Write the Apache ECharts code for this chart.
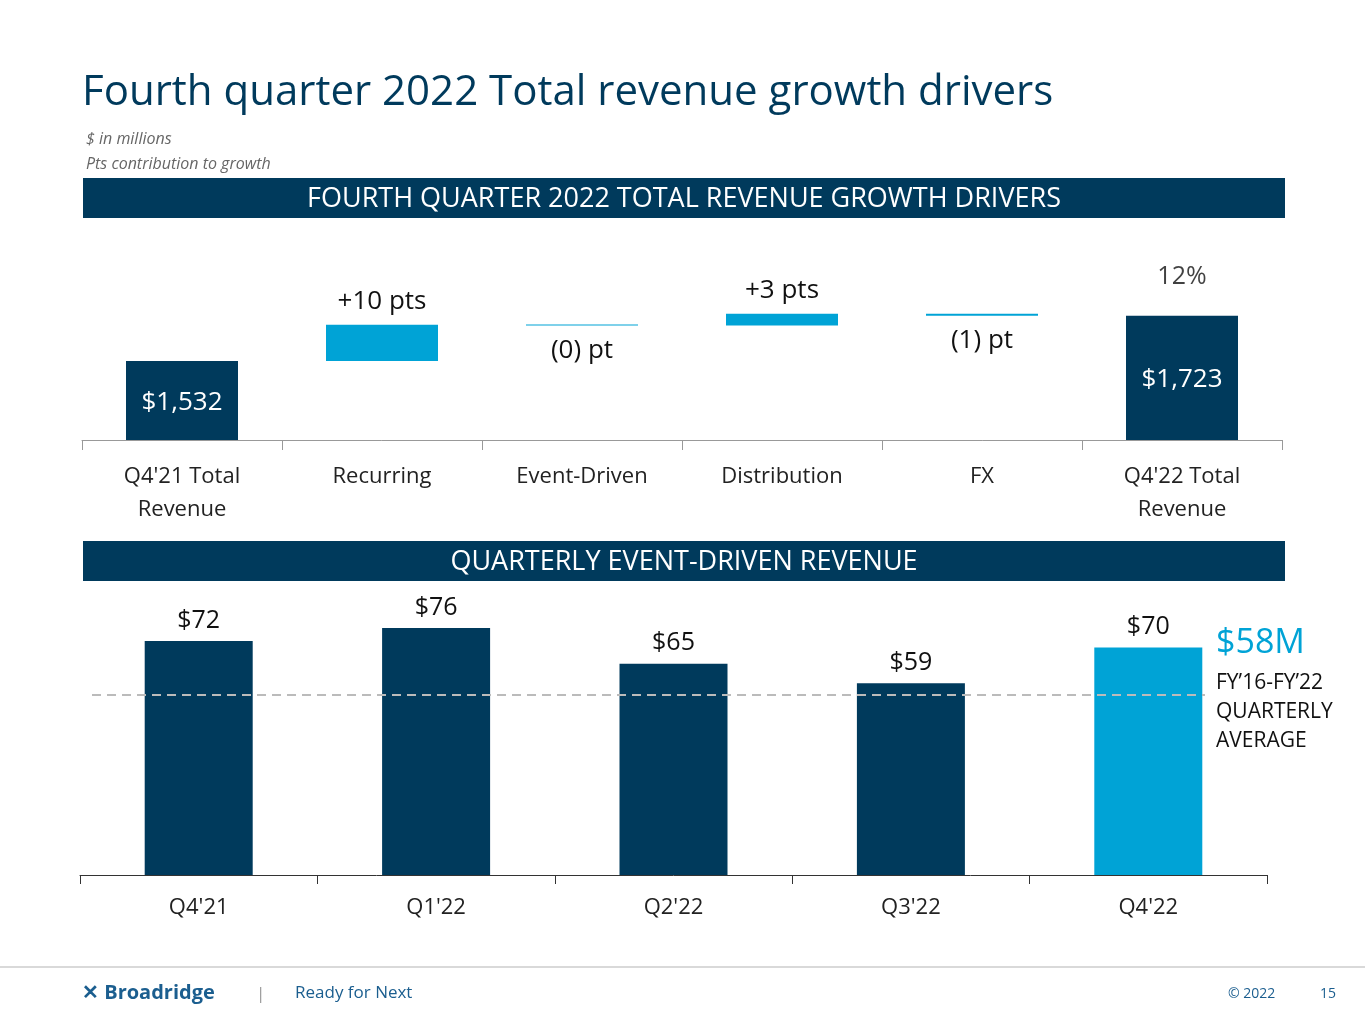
<!DOCTYPE html>
<html><head><meta charset="utf-8">
<script src="https://cdn.jsdelivr.net/npm/echarts@6/dist/echarts.min.js"></script>
<style>html,body{margin:0;padding:0;background:#fff}#c{width:1365px;height:1024px}</style>
</head><body><div id="c"></div>
<script>
const wfCategories = ["Q4'21 Total\nRevenue","Recurring","Event-Driven","Distribution","FX","Q4'22 Total\nRevenue"];
const wfStart = 1532;
const wfDeltas = [153, -3, 50, -9];
const wfEnd = 1723;
const wfLabels = ["$1,532","+10 pts","(0) pt","+3 pts","(1) pt","12%"];
const qCategories = ["Q4'21","Q1'22","Q2'22","Q3'22","Q4'22"];
const qValues = [72, 76, 65, 59, 70];
const avgLineValue = 55.5;

const NAVY = '#003A5C', CYAN = '#00A3D6';
const FONT = 'Open Sans';

const base = [], pos = [], neg = [], totals = [];
let run = wfStart;
base.push(0); pos.push(null); neg.push(null);
totals.push({value:wfStart, label:{show:true, position:'insideBottom', distance:24, fontSize:26, color:'#fff', formatter:'$1,532'}});
wfDeltas.forEach(d => {
  if (d >= 0) { base.push(run); pos.push(d); neg.push(null); }
  else { base.push(run + d); pos.push(null); neg.push(-d); }
  totals.push(null);
  run += d;
});
base.push(0); pos.push(null); neg.push(null);
totals.push({value:wfEnd, label:{show:true, position:'insideBottom', distance:47, fontSize:26, color:'#fff', formatter:'$1,723'}});

const chart = echarts.init(document.getElementById('c'));
chart.setOption({
  animation:false,
  textStyle:{fontFamily:FONT},
  graphic:[
    {type:'text', left:82, top:72, style:{text:'Fourth quarter 2022 Total revenue growth drivers', fontSize:42, fill:NAVY, fontFamily:FONT}},
    {type:'text', left:86, top:131, style:{text:'$ in millions', fontSize:16, fontStyle:'italic', fill:'#666', fontFamily:FONT}},
    {type:'text', left:86, top:156, style:{text:'Pts contribution to growth', fontSize:16, fontStyle:'italic', fill:'#666', fontFamily:FONT}},
    {type:'rect', shape:{x:83,y:178,width:1202,height:40}, style:{fill:NAVY}},
    {type:'text', x:684, y:199, style:{text:'FOURTH QUARTER 2022 TOTAL REVENUE GROWTH DRIVERS', fontSize:27, fill:'#fff', align:'center', verticalAlign:'middle', fontFamily:FONT}},
    {type:'rect', shape:{x:83,y:541,width:1202,height:40}, style:{fill:NAVY}},
    {type:'text', x:684, y:562, style:{text:'QUARTERLY EVENT-DRIVEN REVENUE', fontSize:27, fill:'#fff', align:'center', verticalAlign:'middle', fontFamily:FONT}},
    {type:'text', left:1216, top:626, style:{text:'$58M', fontSize:34, fill:CYAN, fontFamily:FONT}},
    {type:'text', left:1216, top:669, style:{text:'FY’16-FY’22\nQUARTERLY\nAVERAGE', fontSize:21, lineHeight:29, fill:'#111', fontFamily:FONT}},
    {type:'line', shape:{x1:0,y1:967,x2:1365,y2:967}, style:{stroke:'#ccc', lineWidth:1.5}},
    {type:'text', left:82, top:983, style:{text:'✕ Broadridge', fontSize:20, fontWeight:'bold', fill:'#1b5e8f', fontFamily:FONT}},
    {type:'text', left:256, top:986, style:{text:'|', fontSize:17, fill:'#999', fontFamily:FONT}},
    {type:'text', left:295, top:985, style:{text:'Ready for Next', fontSize:17, fill:'#1b5e8f', fontFamily:FONT}},
    {type:'text', left:1228, top:987, style:{text:'© 2022', fontSize:14, fill:'#1b5e8f', fontFamily:FONT}},
    {type:'text', left:1320, top:987, style:{text:'15', fontSize:14, fill:'#1b5e8f', fontFamily:FONT}}
  ],
  grid:[
    {left:82, width:1200, top:240, height:200},
    {left:80, width:1187, top:600, height:275}
  ],
  xAxis:[
    {type:'category', gridIndex:0, data:wfCategories,
     axisLine:{lineStyle:{color:'#999'}}, axisTick:{show:true, length:10, lineStyle:{color:'#999'}},
     axisLabel:{fontSize:22, color:'#222', margin:20, lineHeight:33, interval:0}},
    {type:'category', gridIndex:1, data:qCategories,
     axisLine:{lineStyle:{color:'#333'}}, axisTick:{show:true, length:9, lineStyle:{color:'#333'}},
     axisLabel:{fontSize:22, color:'#222', margin:22}}
  ],
  yAxis:[
    {type:'value', gridIndex:0, min:1197, max:2044, show:false},
    {type:'value', gridIndex:1, min:0, max:84.6, show:false}
  ],
  series:[
    {type:'bar', stack:'w', xAxisIndex:0, yAxisIndex:0, data:base, barWidth:112, itemStyle:{color:'transparent'}, silent:true},
    {type:'bar', stack:'w', xAxisIndex:0, yAxisIndex:0, data:pos, barWidth:112, barMinHeight:1, itemStyle:{color:CYAN},
     label:{show:true, position:'top', distance:10, fontSize:26, color:'#111', formatter:p=>wfLabels[p.dataIndex]}},
    {type:'bar', stack:'w', xAxisIndex:0, yAxisIndex:0, data:neg, barWidth:112, barMinHeight:1, itemStyle:{color:CYAN},
     label:{show:true, position:'bottom', distance:12, fontSize:26, color:'#111', formatter:p=>wfLabels[p.dataIndex]}},
    {type:'bar', stack:'w', xAxisIndex:0, yAxisIndex:0, data:totals, barWidth:112, itemStyle:{color:NAVY}},
    {type:'scatter', xAxisIndex:0, yAxisIndex:0, data:[null,null,null,null,null,wfEnd], symbolSize:0,
     label:{show:true, position:'top', distance:26, fontSize:25, color:'#111', formatter:()=>wfLabels[5]}},
    {type:'bar', xAxisIndex:1, yAxisIndex:1, barWidth:108,
     data:qValues.map((v,i)=>({value:v, itemStyle:{color:i===qValues.length-1?CYAN:NAVY}})),
     label:{show:true, position:'top', distance:8, fontSize:25, color:'#111', formatter:p=>'$'+p.value},
     markLine:{symbol:'none', silent:true, label:{show:false},
       lineStyle:{type:[9,6], color:'#bbb', width:2},
       data:[[{coord:[-0.47, avgLineValue], x:92},{x:1205, coord:[4.5, avgLineValue]}]]}}
  ]
});
</script></body></html>
